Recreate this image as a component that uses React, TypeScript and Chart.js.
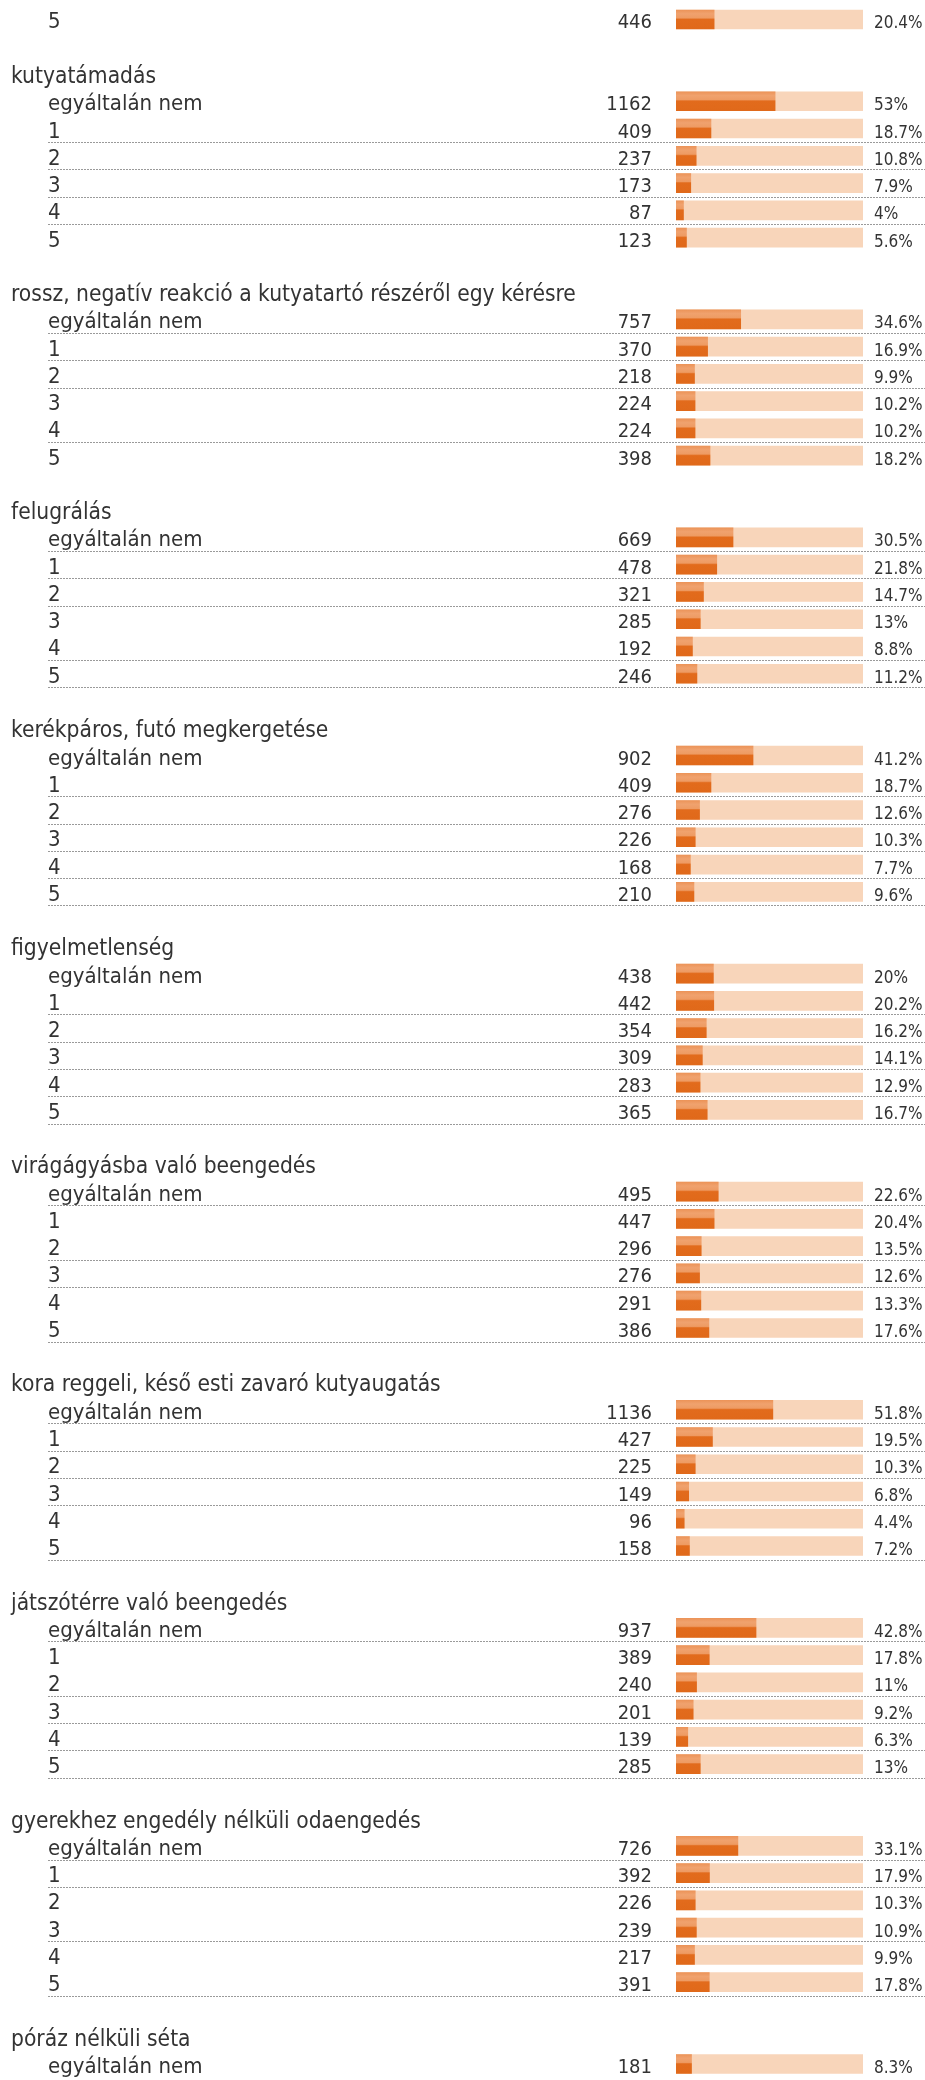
import React, { useEffect, useRef } from 'react';
import { Chart, registerables } from 'chart.js';

Chart.register(...registerables);

// ---- data ----
const answerLevels = ['egyáltalán nem', '1', '2', '3', '4', '5'];

// last visible row of the previous (cut-off) question
const previousTailLabel = '5';
const previousTailCount = 446;
const previousTailPercent = 20.4;

const questionTitles = [
  'kutyatámadás',
  'rossz, negatív reakció a kutyatartó részéről egy kérésre',
  'felugrálás',
  'kerékpáros, futó megkergetése',
  'figyelmetlenség',
  'virágágyásba való beengedés',
  'kora reggeli, késő esti zavaró kutyaugatás',
  'játszótérre való beengedés',
  'gyerekhez engedély nélküli odaengedés',
  'póráz nélküli séta',
];

const answerCounts = [
  [1162, 409, 237, 173, 87, 123],
  [757, 370, 218, 224, 224, 398],
  [669, 478, 321, 285, 192, 246],
  [902, 409, 276, 226, 168, 210],
  [438, 442, 354, 309, 283, 365],
  [495, 447, 296, 276, 291, 386],
  [1136, 427, 225, 149, 96, 158],
  [937, 389, 240, 201, 139, 285],
  [726, 392, 226, 239, 217, 391],
  [181],
];

const answerPercents = [
  [53, 18.7, 10.8, 7.9, 4, 5.6],
  [34.6, 16.9, 9.9, 10.2, 10.2, 18.2],
  [30.5, 21.8, 14.7, 13, 8.8, 11.2],
  [41.2, 18.7, 12.6, 10.3, 7.7, 9.6],
  [20, 20.2, 16.2, 14.1, 12.9, 16.7],
  [22.6, 20.4, 13.5, 12.6, 13.3, 17.6],
  [51.8, 19.5, 10.3, 6.8, 4.4, 7.2],
  [42.8, 17.8, 11, 9.2, 6.3, 13],
  [33.1, 17.9, 10.3, 10.9, 9.9, 17.8],
  [8.3],
];

// rows (within each question) that show a dotted separator beneath them
const separatorRows = [
  [1, 2, 3, 4],
  [0, 1, 2, 4],
  [0, 1, 2, 4, 5],
  [1, 2, 3, 4, 5],
  [1, 2, 3, 4, 5],
  [0, 2, 3, 5],
  [0, 1, 2, 3, 5],
  [0, 2, 3, 4, 5],
  [0, 1, 3, 5],
  [],
];

const fullScale = 100;

type Row = {
  kind: 'item' | 'title' | 'blank';
  label: string;
  count?: number;
  pct?: number;
  sep?: boolean;
};

function buildRows(): Row[] {
  const rows: Row[] = [];
  rows.push({ kind: 'item', label: previousTailLabel, count: previousTailCount, pct: previousTailPercent, sep: false });
  rows.push({ kind: 'blank', label: '' });
  questionTitles.forEach((title, g) => {
    rows.push({ kind: 'title', label: title });
    answerCounts[g].forEach((c, i) => {
      rows.push({
        kind: 'item',
        label: answerLevels[i],
        count: c,
        pct: answerPercents[g][i],
        sep: separatorRows[g].includes(i),
      });
    });
    if (g < questionTitles.length - 1) rows.push({ kind: 'blank', label: '' });
  });
  return rows;
}

const TITLE_FONT = '22.6px "DejaVu Sans Condensed"';
const LABEL_FONT = '22px "DejaVu Sans Condensed"';
const COUNT_FONT = '20px "DejaVu Sans Condensed"';
const PCT_FONT = '17px "DejaVu Sans Condensed"';
const TEXT_COLOR = '#333333';
const BAR_THICKNESS = 19;

export default function App() {
  const canvasRef = useRef<HTMLCanvasElement | null>(null);

  useEffect(() => {
    const canvas = canvasRef.current;
    if (!canvas) return;
    const rows = buildRows();

    const textPlugin = {
      id: 'rowText',
      beforeDatasetsDraw(chart: any) {
        const ctx = chart.ctx;
        const yScale = chart.scales.y;
        const band = chart.chartArea.height / rows.length;
        ctx.save();
        ctx.strokeStyle = '#9a9a9a';
        ctx.lineWidth = 1;
        ctx.setLineDash([2, 1]);
        rows.forEach((r, i) => {
          if (!r.sep) return;
          const y = Math.round(yScale.getPixelForValue(i) + band / 2) + 0.5;
          ctx.beginPath();
          ctx.moveTo(48, y);
          ctx.lineTo(chart.width, y);
          ctx.stroke();
        });
        ctx.restore();
      },
      afterDraw(chart: any) {
        const ctx = chart.ctx;
        const yScale = chart.scales.y;
        const xScale = chart.scales.x;
        ctx.save();
        ctx.fillStyle = TEXT_COLOR;
        ctx.textBaseline = 'alphabetic';
        rows.forEach((r, i) => {
          const base = yScale.getPixelForValue(i) + 9;
          if (r.kind === 'title') {
            ctx.font = TITLE_FONT;
            ctx.textAlign = 'left';
            ctx.fillText(r.label, 11, base);
          } else if (r.kind === 'item') {
            ctx.font = LABEL_FONT;
            ctx.textAlign = 'left';
            ctx.fillText(r.label, 48, base);
            ctx.font = COUNT_FONT;
            ctx.textAlign = 'right';
            ctx.fillText(String(r.count), xScale.getPixelForValue(0) - 24, base);
            ctx.font = PCT_FONT;
            ctx.textAlign = 'left';
            ctx.fillText(String(r.pct) + '%', xScale.getPixelForValue(fullScale) + 11, base);
          }
        });
        ctx.restore();
      },
    };

    const gradientFor = (c: any) => {
      const chart = c.chart;
      const yScale = chart.scales && chart.scales.y;
      if (!chart.chartArea || !yScale) return '#E26B1C';
      const yc = yScale.getPixelForValue(c.dataIndex);
      const top = yc - BAR_THICKNESS / 2;
      const g = chart.ctx.createLinearGradient(0, top, 0, top + BAR_THICKNESS);
      g.addColorStop(0, '#EC9459');
      g.addColorStop(0.2, '#F0A26E');
      g.addColorStop(0.42, '#EE9B63');
      g.addColorStop(0.46, '#E67D37');
      g.addColorStop(0.5, '#E26B1C');
      g.addColorStop(1, '#E0691A');
      return g;
    };

    const chart = new Chart(canvas, {
      type: 'bar',
      data: {
        labels: rows.map((r) => r.label),
        datasets: [
          {
            label: 'arány',
            data: rows.map((r) => (r.kind === 'item' ? (r.pct as number) : null)),
            backgroundColor: gradientFor,
            barThickness: BAR_THICKNESS,
            grouped: false,
            order: 0,
          } as any,
          {
            label: 'háttér',
            data: rows.map((r) => (r.kind === 'item' ? fullScale : null)),
            backgroundColor: '#F8D5BA',
            barThickness: BAR_THICKNESS,
            grouped: false,
            order: 1,
          } as any,
        ],
      },
      options: {
        indexAxis: 'y',
        responsive: false,
        maintainAspectRatio: false,
        animation: false,
        layout: { padding: { left: 676, right: 62, top: 5.87, bottom: 2.4 } },
        plugins: { legend: { display: false }, tooltip: { enabled: false } },
        scales: {
          x: { display: false, min: 0, max: fullScale },
          y: { display: false },
        },
      },
      plugins: [textPlugin],
    });
    return () => chart.destroy();
  }, []);

  return (
    <div style={{ position: 'absolute', left: 0, top: 0, width: 925, height: 2080, background: '#fff' }}>
      <canvas ref={canvasRef} width={925} height={2080} style={{ width: 925, height: 2080, display: 'block' }} />
    </div>
  );
}
